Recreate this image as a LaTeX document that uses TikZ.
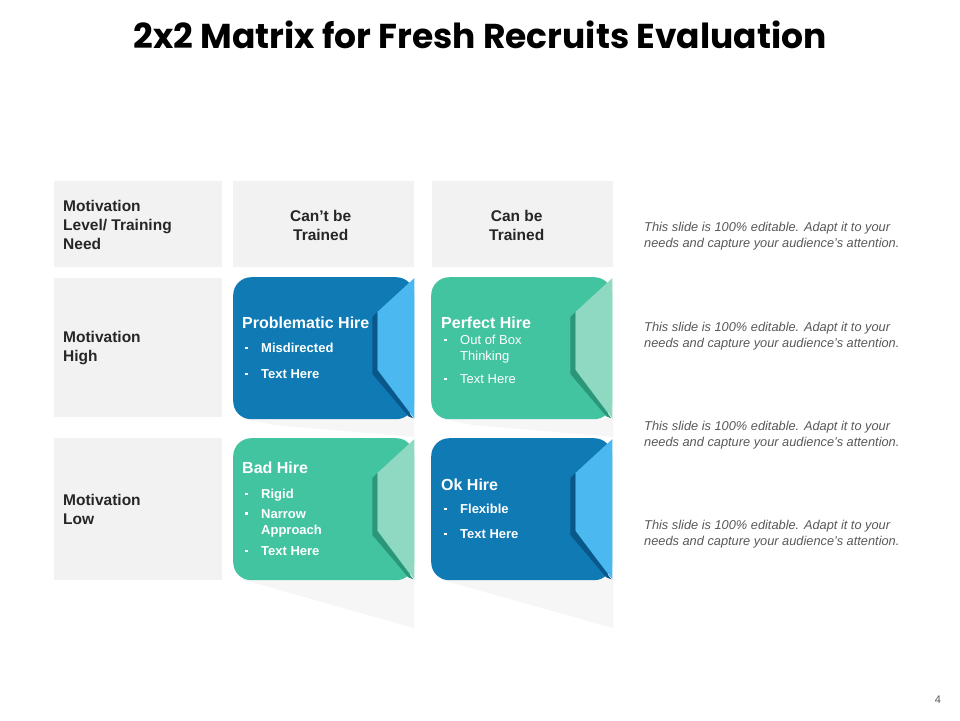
\documentclass[tikz,border=0pt]{standalone}
\usepackage{fontspec}
\setmainfont{Liberation Sans}
\newfontfamily\titlefont{Poppins}
\usetikzlibrary{calc}
\definecolor{boxgrey}{RGB}{242,242,242}
\definecolor{txtdark}{RGB}{38,38,38}
\definecolor{rgrey}{RGB}{89,89,89}
\definecolor{shadowgrey}{RGB}{246,246,246}
\definecolor{cblue}{RGB}{16,122,181}
\definecolor{cbluelight}{RGB}{75,185,240}
\definecolor{cbluedark}{RGB}{10,88,138}
\definecolor{cgreen}{RGB}{67,196,161}
\definecolor{cgreenlight}{RGB}{143,217,194}
\definecolor{cgreendark}{RGB}{44,150,121}
\newcommand\bul{\makebox[16pt][l]{\rule[3.2pt]{2.6pt}{2.6pt}}}
\newcommand\cardflap[3]{%
  \fill[#2] ($(#1.north east)+(0,1)$) -- ($(#1.north east)+(-37,35)$) -- ($(#1.north east)+(-37,93)$) -- ($(#1.south east)+(0,-1)$) -- cycle;
  \fill[#3] ($(#1.north east)+(-37,35)$) -- ($(#1.north east)+(-42,40)$) -- ($(#1.north east)+(-42,97)$) -- ($(#1.south east)+(-6,-3)$) -- ($(#1.south east)+(-1,-1)$) -- ($(#1.north east)+(-37,93)$) -- cycle;
}
\begin{document}
\begin{tikzpicture}[x=1pt,y=-1pt,
  greybox/.style={fill=boxgrey, draw=none, inner sep=0, anchor=north west},
  cardbody/.style={draw=none, inner sep=0, anchor=north west, minimum width=181, minimum height=142, rounded corners=18},
  lbl/.style={inner sep=0, align=left, text=txtdark, font=\fontsize{15.5}{19}\selectfont\bfseries},
  ctitle/.style={anchor=base west, inner sep=0, text=white, font=\fontsize{16}{18}\selectfont\bfseries},
  citem/.style={anchor=base west, inner sep=0, text=white, font=\fontsize{13}{16.5}\selectfont\bfseries},
  citemlight/.style={citem, font=\fontsize{13}{16.5}\selectfont},
  citemml/.style={anchor=north west, align=left, inner sep=0, text=white, font=\fontsize{13}{16.5}\selectfont\bfseries},
  rtext/.style={anchor=west, align=left, inner sep=0, text=rgrey, font=\fontsize{12.8}{16.5}\selectfont\itshape},
  shadowfill/.style={fill=shadowgrey, draw=none}
]
\fill[white] (0,0) rectangle (960,720);
\useasboundingbox (0,0) rectangle (960,720);

% title
\node[font=\fontsize{34.5}{40}\selectfont\titlefont\bfseries, text=black, inner sep=0] (title) at (480,35) {2x2 Matrix for Fresh Recruits Evaluation};

% grey cells
\node[greybox, minimum width=168, minimum height=86] (g11) at (54,181) {};
\node[greybox, minimum width=181, minimum height=86] (g12) at (233,181) {};
\node[greybox, minimum width=181, minimum height=86] (g13) at (432,181) {};
\node[greybox, minimum width=168, minimum height=139] (g21) at (54,278) {};
\node[greybox, minimum width=168, minimum height=142] (g31) at (54,438) {};

\node[lbl, anchor=west] (t11) at (63,225) {Motivation\\Level/ Training\\Need};
\node[lbl, align=center] (t12) at ($(g12.center)+(-3,1)$) {Can’t be\\Trained};
\node[lbl, align=center] (t13) at ($(g13.center)+(-6,1)$) {Can be\\Trained};
\node[lbl, anchor=west] (t21) at (63,348.5) {Motivation\\High};
\node[lbl, anchor=west] (t31) at (63,509.5) {Motivation\\Low};

% shadows
\fill[shadowfill] (240,418) -- (414,418) -- (414,437) -- (275,425) -- cycle;
\fill[shadowfill] (438,418) -- (613,418) -- (613,437) -- (473,425) -- cycle;
\fill[shadowfill] (240,579) -- (414,579) -- (414,628) -- (262,585) -- cycle;
\fill[shadowfill] (438,579) -- (613,579) -- (613,628) -- (460,585) -- cycle;

% cards
\node[cardbody, fill=cblue] (c1) at (233,277) {};
\node[cardbody, fill=cgreen] (c2) at (431,277) {};
\node[cardbody, fill=cgreen] (c3) at (233,438) {};
\node[cardbody, fill=cblue] (c4) at (431,438) {};
\cardflap{c1}{cbluelight}{cbluedark}
\cardflap{c2}{cgreenlight}{cgreendark}
\cardflap{c3}{cgreenlight}{cgreendark}
\cardflap{c4}{cbluelight}{cbluedark}

% card 1
\node[ctitle] (h1) at (242,328.5) {Problematic Hire};
\node[citem] (i11) at (245,352.5) {\bul Misdirected};
\node[citem] (i12) at (245,378.5) {\bul Text Here};
% card 2
\node[ctitle] (h2) at (441,328.5) {Perfect Hire};
\node[citemml, font=\fontsize{13}{16}\selectfont] (i21) at (444,335) {\bul Out of Box\\\hspace*{16pt}Thinking};
\node[citemlight] (i22) at (444,383.5) {\bul Text Here};
% card 3
\node[ctitle] (h3) at (242,473.5) {Bad Hire};
\node[citem] (i31) at (245,498.5) {\bul Rigid};
\node[citemml] (i32) at (245,509) {\bul Narrow\\\hspace*{16pt}Approach};
\node[citem] (i33) at (245,555.5) {\bul Text Here};
% card 4
\node[ctitle] (h4) at (441,490.5) {Ok Hire};
\node[citem] (i41) at (444,513.5) {\bul Flexible};
\node[citem] (i42) at (444,538.5) {\bul Text Here};

% right texts
\node[rtext] (r1) at (644,236) {This slide is 100\% editable. Adapt it to your\\needs and capture your audience’s attention.};
\node[rtext] (r2) at (644,336) {This slide is 100\% editable. Adapt it to your\\needs and capture your audience’s attention.};
\node[rtext] (r3) at (644,435) {This slide is 100\% editable. Adapt it to your\\needs and capture your audience’s attention.};
\node[rtext] (r4) at (644,534) {This slide is 100\% editable. Adapt it to your\\needs and capture your audience’s attention.};

\node[font=\fontsize{11}{13}\selectfont, text=rgrey, inner sep=0] (pg) at (938,700) {4};
\end{tikzpicture}
\end{document}
